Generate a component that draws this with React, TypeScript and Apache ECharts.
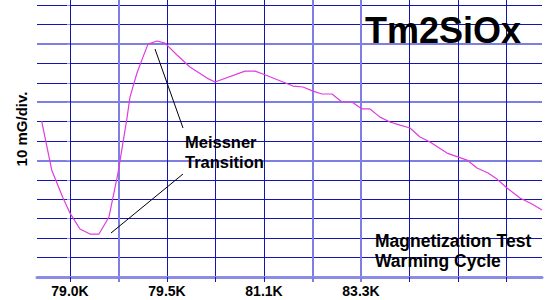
import React, { useEffect, useRef } from "react";
import * as echarts from "echarts";

// x position in grid divisions (one division per vertical grid line), y in mG
const xDiv = [
  -0.584, -0.377, -0.144, 0, 0.206, 0.412, 0.598, 0.804, 0.99, 1.175, 1.237, 1.381, 1.505,
  1.608, 1.794, 1.959, 2.206, 2.474, 2.825, 2.99, 3.608, 3.814, 3.979, 4.392, 4.598, 4.804,
  5.01, 5.196, 5.402, 5.608, 5.814, 6.021, 6.186, 6.392, 6.598, 6.804, 7.01, 7.216, 7.423,
  7.773, 8.186, 8.392, 8.619, 8.804, 9.01, 9.278, 9.526, 9.732,
];
const magMG = [
  80.3, 55.1, 40.7, 32.9, 24.7, 22.1, 22.1, 30.9, 53.5, 81.8, 92.6, 105.0, 113.2,
  119.9, 121.5, 120.4, 114.3, 108.1, 102.4, 100.4, 106.0, 106.0, 104.5, 100.4, 98.3, 97.8,
  95.7, 94.2, 94.2, 90.1, 90.1, 86.5, 86.5, 82.3, 79.8, 78.2, 76.7, 72.1, 69.5,
  63.8, 60.2, 56.1, 53.5, 50.4, 45.8, 40.7, 37.6, 34.5,
];
const tickLabels = ["79.0K", "79.5K", "81.1K", "83.3K"];
const labelDivs = [0, 2, 4, 6];
const darkXLines = [0, 2, 3, 4, 7, 8, 9];
const lightXLines = [1, 5, 6];
const darkYLines = [10, 20, 30, 40, 50, 70, 80, 100, 110, 130, 140];
const lightYLines = [60, 90, 120];

const FONT = "Arial, 'Liberation Sans', Helvetica, sans-serif";
const DARK = "#1414b0";
const LIGHT = "#7e7ee4";

export default function App() {
  const ref = useRef<HTMLDivElement>(null);
  useEffect(() => {
    if (!ref.current) return;
    const chart = echarts.init(ref.current, null, { renderer: "svg" });
    const xCommon = { type: "value", min: -0.68, max: 9.732, position: "bottom" };
    const yCommon = { type: "value", min: 0, max: 142.6, position: "left" };
    chart.setOption({
      animation: false,
      backgroundColor: "#ffffff",
      grid: { left: 37, right: 5, top: 0, bottom: 23, containLabel: false },
      xAxis: [
        {
          ...xCommon,
          axisLine: { show: true, lineStyle: { color: "#8c8ce6", width: 3 } },
          axisTick: { show: true, customValues: darkXLines, length: 5, lineStyle: { color: DARK, width: 1 } },
          axisLabel: {
            show: true,
            customValues: labelDivs,
            margin: 7,
            color: "#000",
            fontFamily: FONT,
            fontWeight: "bold",
            fontSize: 14,
            formatter: (v: number) => tickLabels[labelDivs.indexOf(Math.round(v))] ?? "",
          },
          splitLine: { show: true, lineStyle: { color: DARK, width: 1 } },
        },
        {
          ...xCommon,
          axisLine: { show: false },
          axisTick: { show: true, customValues: lightXLines, length: 5, lineStyle: { color: LIGHT, width: 2 } },
          axisLabel: { show: false, customValues: lightXLines },
          splitLine: { show: true, lineStyle: { color: LIGHT, width: 2 } },
        },
      ],
      yAxis: [
        {
          ...yCommon,
          axisLine: { show: false },
          axisTick: { show: true, customValues: darkYLines, length: 3, lineStyle: { color: "#9a9ae6", width: 1 } },
          axisLabel: { show: false, customValues: darkYLines },
          splitLine: { show: true, lineStyle: { color: DARK, width: 1 } },
        },
        {
          ...yCommon,
          axisLine: { show: false },
          axisTick: { show: true, customValues: lightYLines, length: 3, lineStyle: { color: "#9a9ae6", width: 1 } },
          axisLabel: { show: false, customValues: lightYLines },
          splitLine: { show: true, lineStyle: { color: LIGHT, width: 2 } },
        },
      ],
      series: [
        {
          type: "line",
          xAxisIndex: 0,
          yAxisIndex: 0,
          data: xDiv.map((x, i) => [x, magMG[i]]),
          showSymbol: false,
          symbol: "none",
          smooth: false,
          lineStyle: { color: "#e03ce0", width: 1.2 },
          z: 5,
        },
      ],
      graphic: [
        {
          type: "text",
          x: 365,
          y: 12.5,
          z: 10,
          style: { text: "Tm2SiOx", fontFamily: FONT, fontWeight: "bold", fontSize: 36, fill: "#000", textVerticalAlign: "top" },
        },
        {
          type: "text",
          x: 185,
          y: 132.3,
          z: 10,
          style: {
            text: "Meissner\nTransition",
            fontFamily: FONT,
            fontWeight: "bold",
            fontSize: 16.5,
            lineHeight: 20,
            fill: "#000",
            textVerticalAlign: "top",
          },
        },
        {
          type: "text",
          x: 375,
          y: 230.6,
          z: 10,
          style: {
            text: "Magnetization Test\nWarming Cycle",
            fontFamily: FONT,
            fontWeight: "bold",
            fontSize: 17.5,
            lineHeight: 20,
            fill: "#000",
            textVerticalAlign: "top",
          },
        },
        {
          type: "text",
          x: 21,
          y: 129,
          rotation: Math.PI / 2,
          z: 10,
          style: {
            text: "10 mG/div.",
            fontFamily: FONT,
            fontWeight: "bold",
            fontSize: 15,
            fill: "#000",
            textAlign: "center",
            textVerticalAlign: "middle",
          },
        },
        {
          type: "line",
          z: 10,
          shape: { x1: 155, y1: 49, x2: 183, y2: 128 },
          style: { stroke: "#000", lineWidth: 1 },
        },
        {
          type: "line",
          z: 10,
          shape: { x1: 111, y1: 233, x2: 183, y2: 174 },
          style: { stroke: "#000", lineWidth: 1 },
        },
      ],
    });
    return () => chart.dispose();
  }, []);
  return <div ref={ref} style={{ width: 547, height: 300, position: "absolute", left: 0, top: 0 }} />;
}
